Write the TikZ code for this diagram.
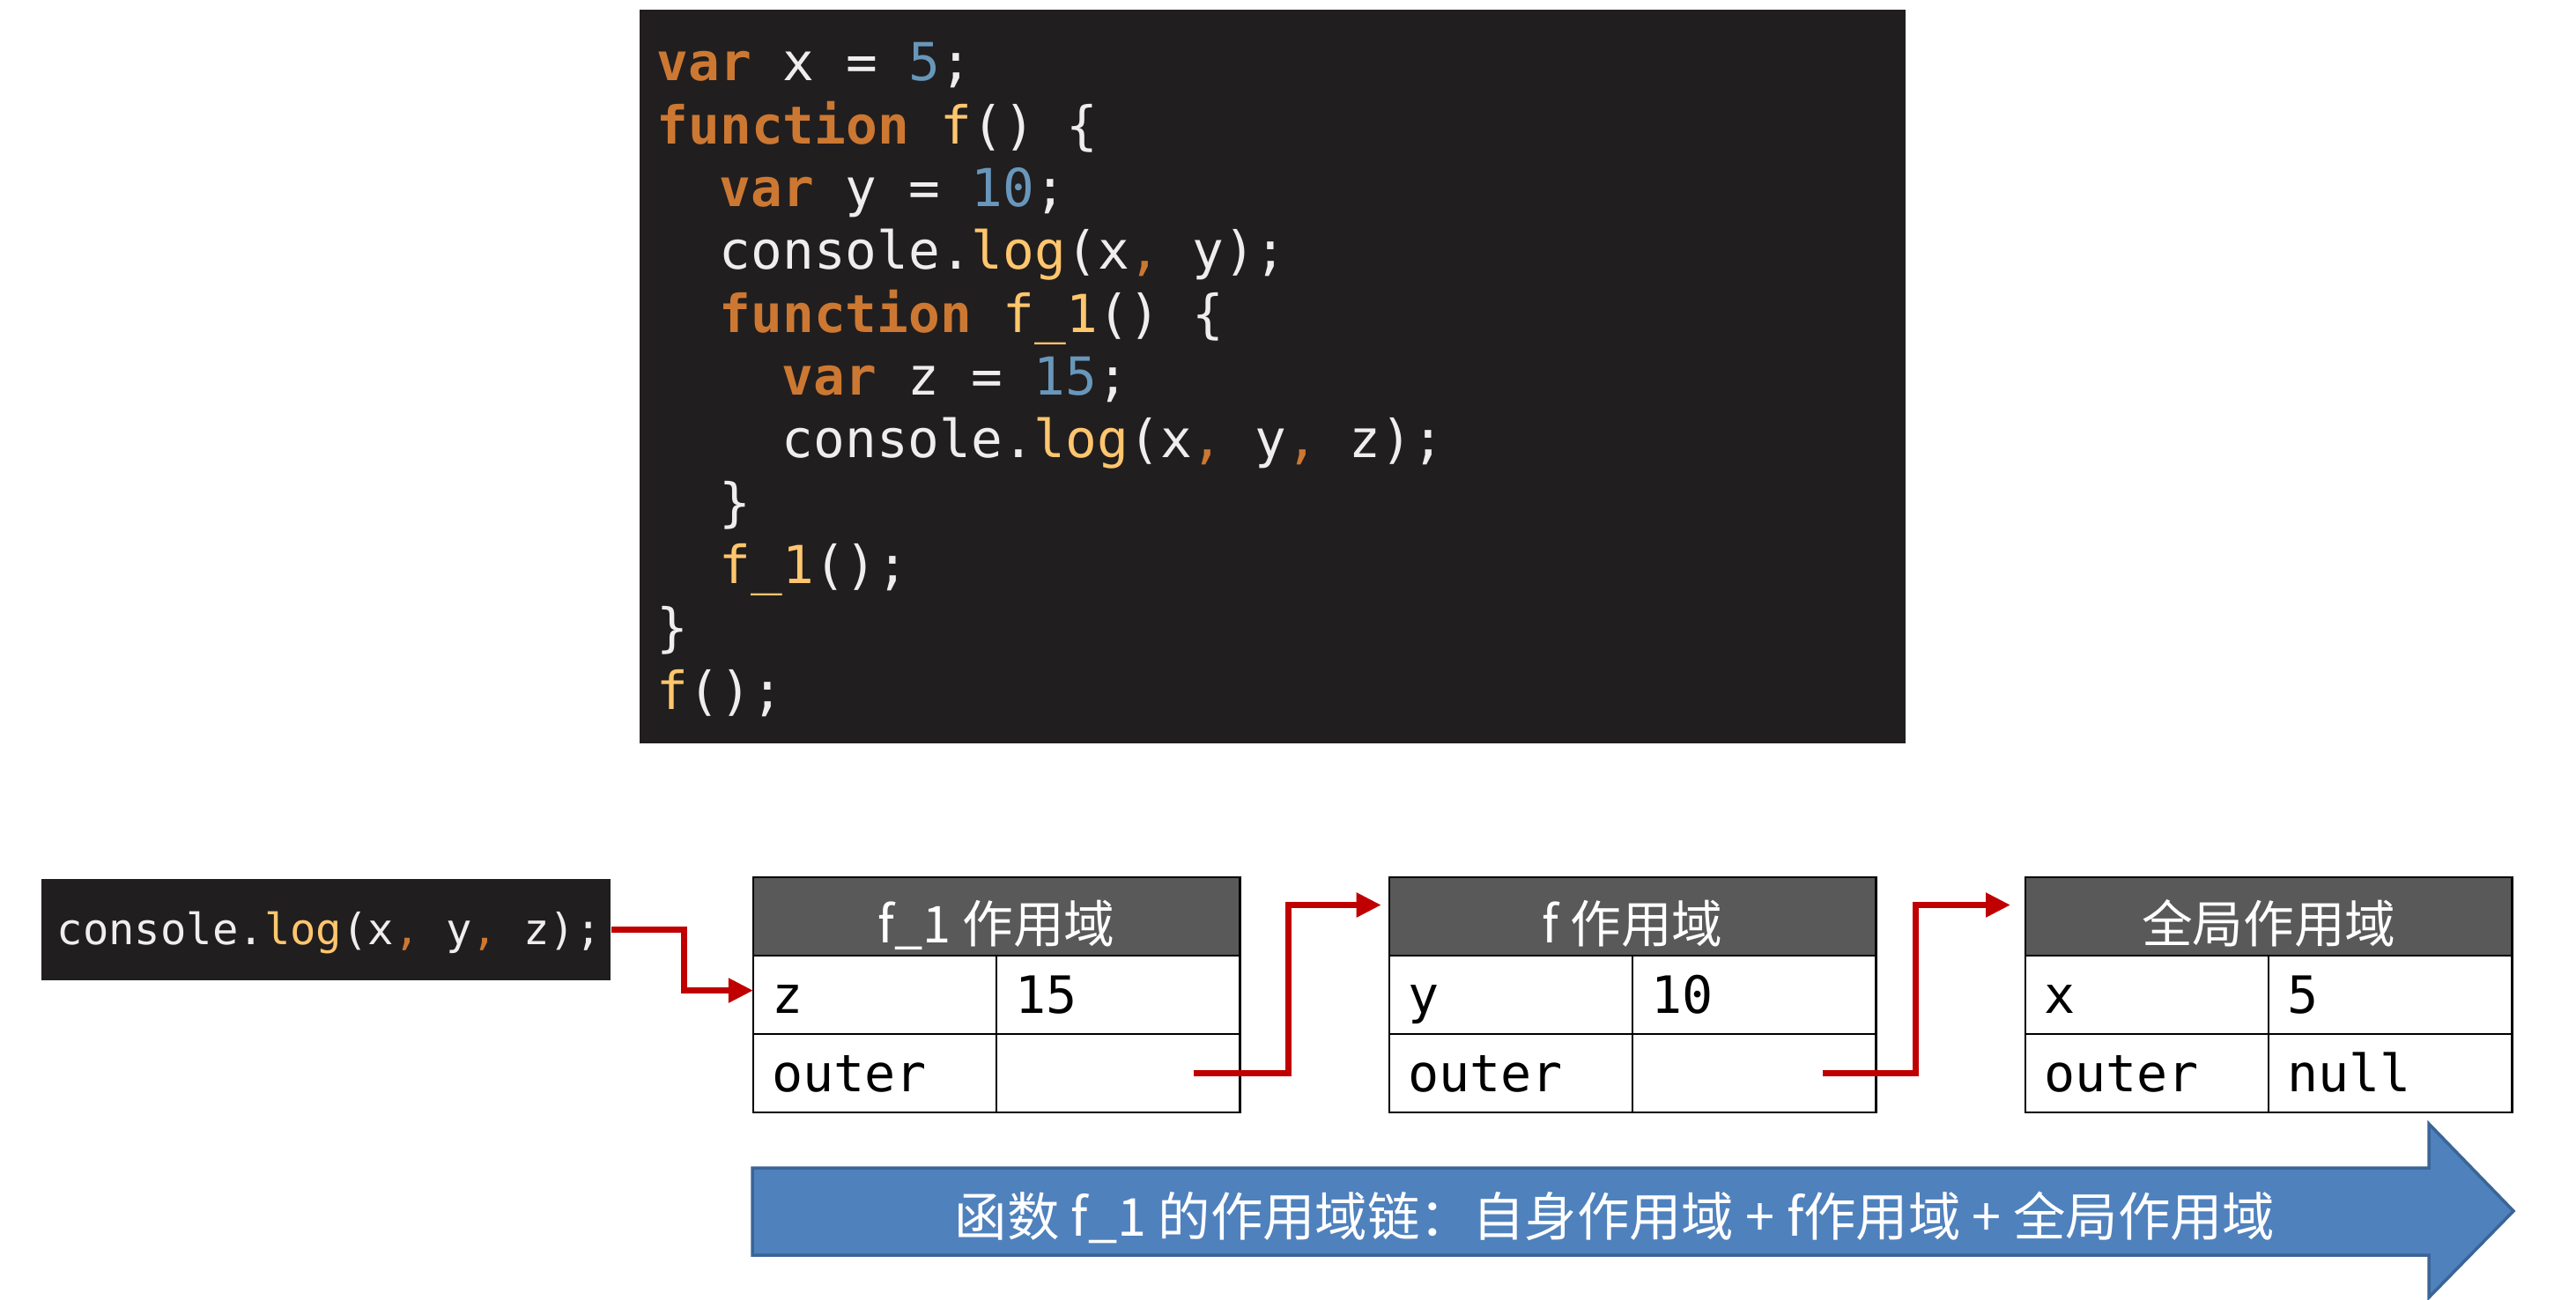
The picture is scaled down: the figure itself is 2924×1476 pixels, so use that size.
\documentclass[tikz,border=0pt]{standalone}
\usepackage{fontspec}
\setmonofont{DejaVu Sans Mono}
\newfontfamily\cjk{Noto Sans CJK SC}
\usetikzlibrary{arrows.meta,calc}
\definecolor{codebg}{HTML}{211E1F}
\definecolor{kwc}{HTML}{CC7832}
\definecolor{numc}{HTML}{6897BB}
\definecolor{fnc}{HTML}{FFC66D}
\definecolor{codetxt}{HTML}{EEEEEE}
\definecolor{hdrgray}{HTML}{595959}
\definecolor{chainred}{HTML}{C00000}
\definecolor{arrowblue}{HTML}{4F81BD}
\definecolor{arrowedge}{HTML}{3A6596}
\newcommand{\ckw}[1]{\textcolor{kwc}{\bfseries #1}}
\newcommand{\cnum}[1]{\textcolor{numc}{#1}}
\newcommand{\cfn}[1]{\textcolor{fnc}{#1}}
\newcommand{\ccm}{\textcolor{kwc}{,}}
\newcommand{\codefont}{\ttfamily\fontsize{16.9pt}{20pt}\selectfont}
\newcommand{\cellfont}{\ttfamily\fontsize{16.6pt}{20pt}\selectfont}
\newcommand{\confont}{\ttfamily\fontsize{13.9pt}{17pt}\selectfont}
\begin{document}
\begin{tikzpicture}[x=0.01cm,y=-0.01cm,
  codeline/.style={anchor=base west, inner sep=0pt, text=codetxt, font=\codefont},
  hdrst/.style={draw=black, line width=0.7pt, fill=hdrgray, text=white, minimum width=5.52cm,
    minimum height=0.89cm, text height=0.59cm, text depth=0pt, inner ysep=0pt, outer sep=0pt,
    font=\cjk\fontsize{16.4pt}{19pt}\selectfont, anchor=north west},
  cellst/.style={draw=black, line width=0.7pt, minimum width=2.76cm, minimum height=0.89cm,
    inner xsep=0.21cm, text width=2.34cm, align=left, text height=0.42cm, text depth=0pt,
    inner ysep=0pt, outer sep=0pt, font=\cellfont, anchor=north west},
  chain/.style={draw=chainred, line width=2pt, line join=miter,
    -{Triangle[length=8pt,width=7.5pt]}}
]
\useasboundingbox (0,0) rectangle (2924,1476);
\fill[white] (0,0) rectangle (2924,1476);

% code block
\node[fill=codebg, minimum width=14.36cm, minimum height=8.33cm, inner sep=0pt, anchor=north west] (code) at (725,10) {};
\node[codeline] (c1) at (745,92) {\ckw{var} x = \cnum{5};};
\node[codeline] (c2) at (745,163.3) {\ckw{function} \cfn{f}() \{};
\node[codeline] (c3) at (816,234.6) {\ckw{var} y = \cnum{10};};
\node[codeline] (c4) at (816,305.9) {console.\cfn{log}(x\ccm{} y);};
\node[codeline] (c5) at (816,377.2) {\ckw{function} \cfn{f\_1}() \{};
\node[codeline] (c6) at (887,448.5) {\ckw{var} z = \cnum{15};};
\node[codeline] (c7) at (887,519.8) {console.\cfn{log}(x\ccm{} y\ccm{} z);};
\node[codeline] (c8) at (816,591.1) {\}};
\node[codeline] (c9) at (816,662.4) {\cfn{f\_1}();};
\node[codeline] (c10) at (745,733.7) {\}};
\node[codeline] (c11) at (745,805) {\cfn{f}();};

% console box
\node[fill=codebg, minimum width=6.46cm, minimum height=1.15cm, inner sep=0pt, anchor=north west] (con) at (46,997) {};
\node[anchor=base west, inner sep=0pt, text=codetxt, font=\confont] (contxt) at (64,1072) {console.\cfn{log}(x\ccm{} y\ccm{} z);};

% f_1 scope table
\node[hdrst] (t1h) at (855,996) {f\_1 作用域};
\node[cellst] (t1k1) at (t1h.south west) {z};
\node[cellst] (t1v1) at (t1k1.north east) {15};
\node[cellst] (t1k2) at (t1k1.south west) {outer};
\node[cellst] (t1v2) at (t1k2.north east) {};

% f scope table
\node[hdrst] (t2h) at (1577,996) {f 作用域};
\node[cellst] (t2k1) at (t2h.south west) {y};
\node[cellst] (t2v1) at (t2k1.north east) {10};
\node[cellst] (t2k2) at (t2k1.south west) {outer};
\node[cellst] (t2v2) at (t2k2.north east) {};

% global scope table
\node[hdrst] (t3h) at (2299,996) {全局作用域};
\node[cellst] (t3k1) at (t3h.south west) {x};
\node[cellst] (t3v1) at (t3k1.north east) {5};
\node[cellst] (t3k2) at (t3k1.south west) {outer};
\node[cellst] (t3v2) at (t3k2.north east) {null};

% chain connectors
\draw[chain] (con.east) -- ++(83,0) |- ($(t1k1.west)+(0,-5)$);
\draw[chain, shorten >=2.6pt] ($(t1v2.east)+(-52,0)$) -- ++(107,0) |- ($(t2h.west)+(0,-13)$);
\draw[chain, shorten >=4.8pt] ($(t2v2.east)+(-60,0)$) -- ++(105,0) |- ($(t3h.west)+(0,-13)$);

% big blue arrow
\path[fill=arrowblue, draw=arrowedge, line width=1pt]
  (854,1326) -- (2757,1326) -- (2757,1276) -- (2853,1375) -- (2757,1473) -- (2757,1425) -- (854,1425) -- cycle;
\node[anchor=base, inner sep=0pt, text=white, font=\cjk\fontsize{16.9pt}{20pt}\selectfont] (chaintxt) at (1833,1403)
  {函数 f\_1 的作用域链：自身作用域 + f作用域 + 全局作用域};
\end{tikzpicture}
\end{document}
